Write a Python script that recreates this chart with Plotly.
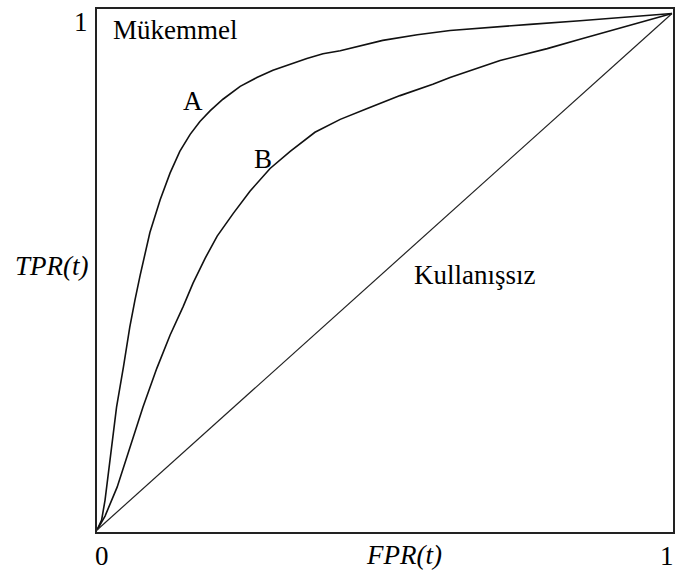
import plotly.graph_objects as go

# ROC curves (FPR, TPR)
fpr_a = [0.0, 0.008, 0.014, 0.023, 0.034, 0.046, 0.057, 0.066, 0.075, 0.092, 0.110, 0.127, 0.144, 0.162,
         0.179, 0.197, 0.219, 0.249, 0.278, 0.306, 0.336, 0.365, 0.393, 0.423, 0.497, 0.557, 0.614,
         0.701, 0.753, 0.840, 0.927, 1.0]
tpr_a = [0.0, 0.019, 0.058, 0.135, 0.238, 0.316, 0.393, 0.445, 0.493, 0.576, 0.640, 0.691, 0.733, 0.766,
         0.791, 0.812, 0.834, 0.859, 0.876, 0.890, 0.902, 0.913, 0.922, 0.928, 0.948, 0.959, 0.967,
         0.975, 0.979, 0.986, 0.993, 1.0]

fpr_b = [0.0, 0.014, 0.035, 0.057, 0.080, 0.104, 0.127, 0.150, 0.167, 0.188, 0.209, 0.237, 0.266, 0.301,
         0.336, 0.379, 0.423, 0.470, 0.527, 0.584, 0.614, 0.701, 0.783, 0.840, 0.897, 0.957, 1.0]
tpr_b = [0.0, 0.027, 0.083, 0.161, 0.238, 0.313, 0.377, 0.433, 0.478, 0.526, 0.569, 0.613, 0.656, 0.700,
         0.733, 0.770, 0.795, 0.816, 0.841, 0.863, 0.876, 0.909, 0.932, 0.950, 0.968, 0.986, 1.0]

fpr_diag = [0.0, 1.0]
tpr_diag = [0.0, 1.0]

tick_labels = ["0", "1"]
x_title = "FPR(t)"
y_title = "TPR(t)"
region_labels = ["Mükemmel", "Kullanışsız"]
curve_labels = ["A", "B"]

W, H = 676, 574
L, R, T, B = 96, 674, 7.5, 533

def px(x):
    return (x - L) / (R - L)

def py(y):
    return (B - y) / (B - T)

FONT = "Liberation Serif"
FS = 27

fig = go.Figure()
fig.add_trace(go.Scatter(x=fpr_a, y=tpr_a, mode="lines", line=dict(color="#111", width=1.6)))
fig.add_trace(go.Scatter(x=fpr_b, y=tpr_b, mode="lines", line=dict(color="#111", width=1.6)))
fig.add_trace(go.Scatter(x=fpr_diag, y=tpr_diag, mode="lines", line=dict(color="#222", width=1.2)))

anns = []
def ann(text, x, y, italic=False, xanchor="center"):
    t = f"<i>{text}</i>" if italic else text
    anns.append(dict(text=t, x=px(x), y=py(y), xref="paper", yref="paper", showarrow=False,
                     xanchor=xanchor, yanchor="middle",
                     font=dict(family=FONT, size=FS, color="#000")))

ann(tick_labels[1], 81, 22)
ann(tick_labels[0], 102, 556)
ann(tick_labels[1], 676, 556, xanchor="right")
ann(x_title, 404, 555, italic=True)
ann(y_title, 52, 266, italic=True)
ann(region_labels[0], 175, 30)
ann(region_labels[1], 475, 275)
ann(curve_labels[0], 193, 101)
ann(curve_labels[1], 262.5, 159)

fig.update_layout(
    width=W, height=H,
    margin=dict(l=L, r=W - R, t=T, b=H - B, pad=0),
    paper_bgcolor="white", plot_bgcolor="white",
    showlegend=False,
    xaxis=dict(range=[(L - 97) / 575, (R - 97) / 575], visible=False, fixedrange=True),
    yaxis=dict(range=[(530 - B) / 517, (530 - T) / 517], visible=False, fixedrange=True),
    annotations=anns,
    shapes=[dict(type="rect", xref="paper", yref="paper", x0=0, y0=0, x1=1, y1=1,
                 line=dict(color="#222", width=2))],
)

fig.write_html("out.html")
